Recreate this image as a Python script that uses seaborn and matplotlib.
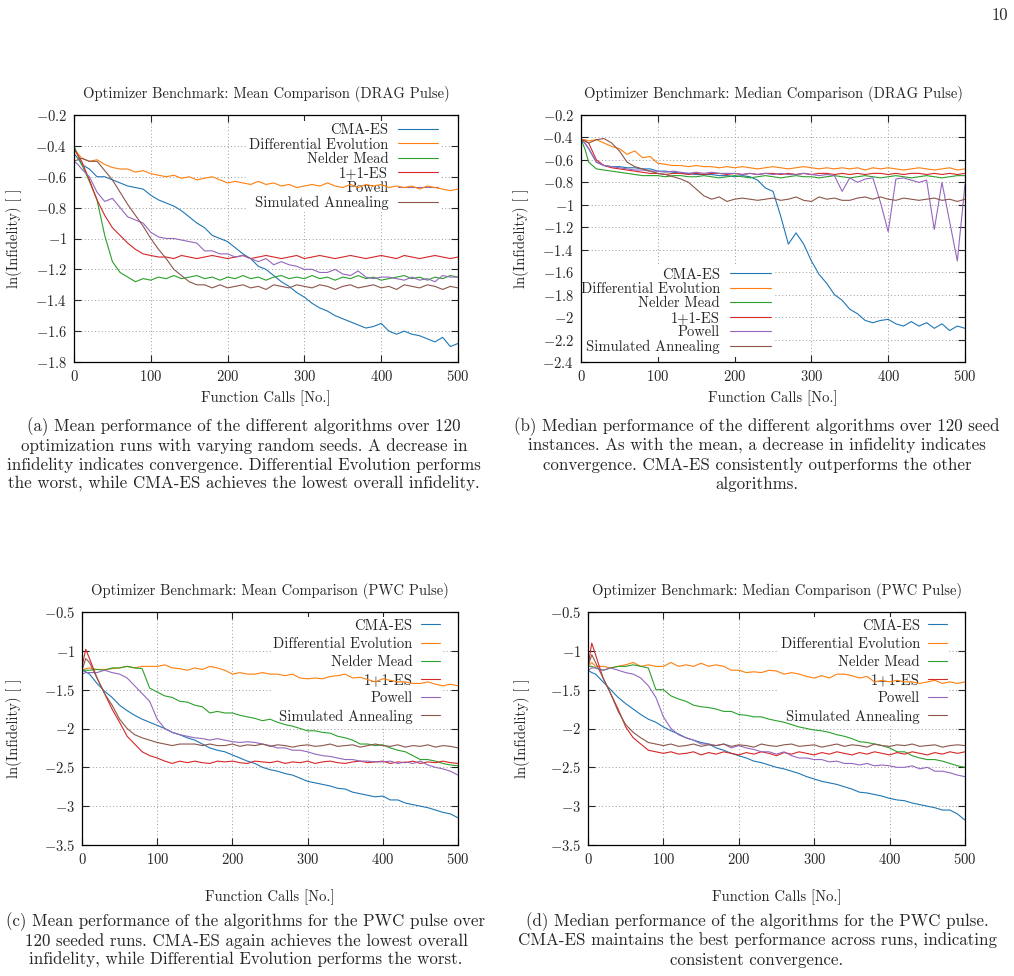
import numpy as np
import seaborn as sns
import matplotlib.pyplot as plt

# function-call grid shared by all curves
calls = [0, 5] + list(range(10, 501, 10))

algorithms = ["CMA-ES", "Differential Evolution", "Nelder Mead", "1+1-ES", "Powell", "Simulated Annealing"]
colors = ["#1f77b4", "#ff7f0e", "#2ca02c", "#d62728", "#9467bd", "#8c564b"]

# (a) mean, DRAG pulse
a_cma = [-0.45, -0.48, -0.52, -0.55, -0.60, -0.60, -0.62, -0.64, -0.66, -0.67, -0.68,
         -0.72, -0.75, -0.77, -0.79, -0.82, -0.86, -0.90, -0.93, -0.98, -1.00,
         -1.02, -1.06, -1.10, -1.13, -1.18, -1.20, -1.24, -1.28, -1.31, -1.35,
         -1.38, -1.42, -1.45, -1.47, -1.50, -1.52, -1.54, -1.56, -1.58, -1.57,
         -1.55, -1.60, -1.62, -1.60, -1.62, -1.63, -1.65, -1.67, -1.64, -1.70,
         -1.68]
a_de = [-0.42, -0.45, -0.48, -0.50, -0.49, -0.52, -0.54, -0.55, -0.55, -0.57, -0.56,
        -0.58, -0.59, -0.60, -0.59, -0.61, -0.60, -0.62, -0.61, -0.60, -0.62,
        -0.64, -0.63, -0.64, -0.65, -0.63, -0.65, -0.64, -0.66, -0.65, -0.67,
        -0.66, -0.65, -0.66, -0.64, -0.66, -0.67, -0.65, -0.67, -0.65, -0.66,
        -0.65, -0.67, -0.66, -0.67, -0.66, -0.68, -0.66, -0.67, -0.68, -0.69,
        -0.68]
a_nm = [-0.40, -0.46, -0.52, -0.63, -0.75, -0.98, -1.15, -1.22, -1.25, -1.28, -1.26,
        -1.27, -1.25, -1.26, -1.24, -1.26, -1.25, -1.24, -1.26, -1.25, -1.27,
        -1.25, -1.26, -1.24, -1.26, -1.25, -1.27, -1.25, -1.24, -1.26, -1.25,
        -1.26, -1.24, -1.26, -1.25, -1.27, -1.25, -1.26, -1.24, -1.26, -1.25,
        -1.27, -1.26, -1.25, -1.24, -1.26, -1.25, -1.27, -1.25, -1.26, -1.24,
        -1.25]
a_es = [-0.42, -0.46, -0.50, -0.62, -0.75, -0.85, -0.93, -0.98, -1.03, -1.07, -1.10,
        -1.11, -1.12, -1.12, -1.13, -1.11, -1.12, -1.13, -1.12, -1.11, -1.12,
        -1.13, -1.12, -1.11, -1.13, -1.12, -1.11, -1.12, -1.13, -1.12, -1.11,
        -1.13, -1.12, -1.11, -1.12, -1.13, -1.12, -1.11, -1.12, -1.13, -1.12,
        -1.11, -1.12, -1.13, -1.11, -1.12, -1.13, -1.12, -1.11, -1.12, -1.13,
        -1.12]
a_pw = [-0.50, -0.52, -0.55, -0.60, -0.70, -0.76, -0.74, -0.80, -0.86, -0.88, -0.90,
        -0.96, -0.99, -1.00, -1.00, -1.01, -1.02, -1.03, -1.08, -1.08, -1.10,
        -1.10, -1.12, -1.11, -1.13, -1.15, -1.13, -1.17, -1.15, -1.17, -1.18,
        -1.20, -1.20, -1.22, -1.22, -1.20, -1.23, -1.24, -1.21, -1.25, -1.26,
        -1.25, -1.25, -1.26, -1.27, -1.25, -1.27, -1.26, -1.28, -1.24, -1.25,
        -1.25]
a_sa = [-0.50, -0.49, -0.48, -0.50, -0.50, -0.56, -0.62, -0.70, -0.78, -0.85, -0.92,
        -1.00, -1.07, -1.13, -1.20, -1.24, -1.28, -1.30, -1.30, -1.32, -1.30,
        -1.32, -1.31, -1.30, -1.32, -1.31, -1.33, -1.30, -1.31, -1.32, -1.30,
        -1.31, -1.32, -1.30, -1.31, -1.33, -1.31, -1.30, -1.32, -1.31, -1.30,
        -1.32, -1.31, -1.33, -1.30, -1.31, -1.32, -1.30, -1.31, -1.33, -1.31,
        -1.32]

# (b) median, DRAG pulse
b_cma = [-0.42, -0.45, -0.50, -0.62, -0.65, -0.66, -0.66, -0.67, -0.67, -0.68, -0.68,
         -0.70, -0.70, -0.71, -0.72, -0.72, -0.73, -0.73, -0.73, -0.74, -0.74,
         -0.75, -0.74, -0.75, -0.78, -0.85, -0.88, -1.10, -1.35, -1.25, -1.35,
         -1.50, -1.62, -1.70, -1.80, -1.85, -1.93, -1.97, -2.03, -2.05, -2.03,
         -2.02, -2.06, -2.08, -2.04, -2.08, -2.05, -2.10, -2.06, -2.12, -2.08,
         -2.10]
b_de = [-0.42, -0.42, -0.43, -0.42, -0.45, -0.48, -0.50, -0.55, -0.52, -0.58, -0.57,
        -0.63, -0.64, -0.65, -0.65, -0.66, -0.65, -0.66, -0.66, -0.67, -0.66,
        -0.67, -0.66, -0.67, -0.68, -0.67, -0.66, -0.67, -0.68, -0.67, -0.66,
        -0.67, -0.68, -0.67, -0.68, -0.67, -0.68, -0.67, -0.69, -0.67, -0.68,
        -0.67, -0.68, -0.69, -0.68, -0.67, -0.68, -0.69, -0.68, -0.67, -0.69,
        -0.68]
b_nm = [-0.42, -0.50, -0.62, -0.68, -0.69, -0.70, -0.71, -0.72, -0.73, -0.74, -0.74,
        -0.74, -0.75, -0.74, -0.74, -0.75, -0.75, -0.74, -0.75, -0.76, -0.75,
        -0.74, -0.75, -0.76, -0.75, -0.74, -0.75, -0.76, -0.75, -0.74, -0.75,
        -0.75, -0.76, -0.75, -0.74, -0.75, -0.76, -0.75, -0.74, -0.75, -0.76,
        -0.75, -0.74, -0.75, -0.76, -0.75, -0.74, -0.75, -0.76, -0.75, -0.74,
        -0.74]
b_es = [-0.42, -0.43, -0.45, -0.60, -0.65, -0.67, -0.68, -0.69, -0.70, -0.71, -0.72,
        -0.72, -0.73, -0.72, -0.72, -0.73, -0.72, -0.73, -0.72, -0.72, -0.73,
        -0.72, -0.73, -0.72, -0.73, -0.72, -0.72, -0.73, -0.72, -0.73, -0.72,
        -0.73, -0.72, -0.72, -0.73, -0.72, -0.73, -0.72, -0.73, -0.72, -0.72,
        -0.73, -0.72, -0.73, -0.72, -0.72, -0.73, -0.72, -0.73, -0.72, -0.73,
        -0.72]
b_pw = [-0.42, -0.45, -0.50, -0.62, -0.65, -0.66, -0.67, -0.68, -0.69, -0.69, -0.70,
        -0.70, -0.71, -0.70, -0.71, -0.72, -0.71, -0.72, -0.71, -0.72, -0.72,
        -0.72, -0.73, -0.72, -0.73, -0.72, -0.73, -0.72, -0.73, -0.73, -0.72,
        -0.73, -0.74, -0.73, -0.74, -0.88, -0.76, -0.80, -0.77, -0.76, -0.98,
        -1.24, -0.77, -0.76, -0.78, -0.80, -0.78, -1.22, -0.80, -1.15, -1.50,
        -0.82]
b_sa = [-0.42, -0.43, -0.45, -0.42, -0.41, -0.45, -0.52, -0.62, -0.66, -0.68, -0.70,
        -0.72, -0.73, -0.75, -0.77, -0.80, -0.86, -0.92, -0.95, -0.93, -0.97,
        -0.95, -0.94, -0.95, -0.96, -0.95, -0.94, -0.96, -0.95, -0.93, -0.96,
        -0.97, -0.93, -0.95, -0.94, -0.96, -0.96, -0.94, -0.93, -0.95, -0.93,
        -0.95, -0.96, -0.94, -0.95, -0.96, -0.95, -0.94, -0.96, -0.95, -0.97,
        -0.95]

# (c) mean, PWC pulse
c_cma = [-1.25, -1.27, -1.30, -1.42, -1.52, -1.60, -1.70, -1.77, -1.83, -1.88, -1.92,
         -1.96, -2.00, -2.05, -2.08, -2.12, -2.15, -2.20, -2.25, -2.28, -2.30,
         -2.34, -2.38, -2.42, -2.45, -2.50, -2.53, -2.55, -2.58, -2.60, -2.64,
         -2.68, -2.70, -2.72, -2.74, -2.77, -2.78, -2.82, -2.84, -2.86, -2.88,
         -2.87, -2.92, -2.92, -2.96, -2.98, -3.00, -3.02, -3.05, -3.08, -3.10,
         -3.15]
c_de = [-1.25, -1.23, -1.22, -1.24, -1.24, -1.23, -1.22, -1.20, -1.22, -1.20, -1.20,
        -1.20, -1.18, -1.22, -1.23, -1.25, -1.22, -1.24, -1.20, -1.22, -1.25,
        -1.30, -1.28, -1.30, -1.30, -1.28, -1.30, -1.30, -1.32, -1.30, -1.35,
        -1.36, -1.35, -1.36, -1.33, -1.32, -1.30, -1.35, -1.34, -1.37, -1.40,
        -1.36, -1.38, -1.40, -1.40, -1.42, -1.42, -1.40, -1.43, -1.45, -1.43,
        -1.45]
c_nm = [-1.25, -1.25, -1.25, -1.24, -1.25, -1.22, -1.22, -1.20, -1.22, -1.23, -1.48,
        -1.53, -1.58, -1.60, -1.65, -1.66, -1.70, -1.72, -1.80, -1.78, -1.80,
        -1.80, -1.83, -1.85, -1.87, -1.90, -1.88, -1.92, -1.95, -1.97, -2.00,
        -2.03, -2.03, -2.05, -2.06, -2.10, -2.12, -2.15, -2.20, -2.20, -2.22,
        -2.21, -2.25, -2.28, -2.30, -2.35, -2.40, -2.40, -2.42, -2.45, -2.47,
        -2.48]
c_es = [-1.20, -0.98, -1.10, -1.35, -1.55, -1.75, -1.92, -2.10, -2.20, -2.30, -2.35,
        -2.38, -2.42, -2.45, -2.42, -2.44, -2.42, -2.44, -2.45, -2.42, -2.43,
        -2.42, -2.44, -2.45, -2.42, -2.43, -2.44, -2.42, -2.45, -2.43, -2.44,
        -2.42, -2.45, -2.43, -2.42, -2.44, -2.45, -2.43, -2.42, -2.44, -2.43,
        -2.42, -2.45, -2.43, -2.44, -2.42, -2.45, -2.43, -2.44, -2.42, -2.44,
        -2.45]
c_pw = [-1.30, -1.28, -1.28, -1.28, -1.25, -1.28, -1.30, -1.35, -1.45, -1.55, -1.65,
        -1.88, -2.00, -2.05, -2.08, -2.10, -2.12, -2.13, -2.15, -2.13, -2.15,
        -2.17, -2.18, -2.17, -2.18, -2.20, -2.22, -2.25, -2.25, -2.28, -2.28,
        -2.30, -2.33, -2.35, -2.36, -2.38, -2.40, -2.40, -2.42, -2.42, -2.43,
        -2.43, -2.42, -2.45, -2.43, -2.45, -2.42, -2.47, -2.50, -2.52, -2.55,
        -2.60]
c_sa = [-1.25, -1.10, -1.15, -1.35, -1.55, -1.70, -1.88, -2.00, -2.08, -2.12, -2.15,
        -2.18, -2.20, -2.22, -2.20, -2.20, -2.20, -2.22, -2.20, -2.22, -2.22,
        -2.20, -2.23, -2.21, -2.22, -2.20, -2.23, -2.21, -2.22, -2.24, -2.22,
        -2.21, -2.23, -2.22, -2.20, -2.23, -2.22, -2.21, -2.24, -2.22, -2.20,
        -2.22, -2.23, -2.21, -2.24, -2.22, -2.23, -2.21, -2.24, -2.22, -2.23,
        -2.25]

# (d) median, PWC pulse
d_cma = [-1.25, -1.28, -1.30, -1.40, -1.50, -1.60, -1.68, -1.75, -1.82, -1.88, -1.92,
         -1.98, -2.03, -2.07, -2.12, -2.15, -2.18, -2.20, -2.25, -2.28, -2.32,
         -2.35, -2.38, -2.42, -2.44, -2.47, -2.50, -2.52, -2.55, -2.58, -2.62,
         -2.65, -2.68, -2.70, -2.72, -2.75, -2.78, -2.82, -2.83, -2.85, -2.87,
         -2.90, -2.92, -2.93, -2.96, -2.98, -3.00, -3.02, -3.05, -3.05, -3.10,
         -3.18]
d_de = [-1.20, -1.15, -1.20, -1.20, -1.22, -1.20, -1.18, -1.15, -1.20, -1.18, -1.20,
        -1.20, -1.15, -1.20, -1.18, -1.20, -1.16, -1.20, -1.18, -1.20, -1.25,
        -1.25, -1.28, -1.27, -1.28, -1.25, -1.26, -1.30, -1.28, -1.30, -1.33,
        -1.35, -1.32, -1.35, -1.30, -1.30, -1.32, -1.35, -1.33, -1.40, -1.38,
        -1.40, -1.38, -1.40, -1.40, -1.42, -1.40, -1.38, -1.42, -1.40, -1.42,
        -1.40]
d_nm = [-1.20, -1.20, -1.22, -1.25, -1.22, -1.20, -1.20, -1.18, -1.20, -1.22, -1.50,
        -1.50, -1.58, -1.62, -1.65, -1.70, -1.72, -1.73, -1.75, -1.78, -1.78,
        -1.82, -1.83, -1.85, -1.85, -1.88, -1.90, -1.92, -1.95, -1.98, -2.00,
        -2.02, -2.03, -2.05, -2.08, -2.10, -2.13, -2.17, -2.18, -2.20, -2.22,
        -2.25, -2.30, -2.30, -2.35, -2.38, -2.40, -2.40, -2.42, -2.45, -2.48,
        -2.50]
d_es = [-1.20, -0.90, -1.05, -1.35, -1.55, -1.75, -1.98, -2.12, -2.20, -2.28, -2.30,
        -2.32, -2.30, -2.33, -2.32, -2.30, -2.34, -2.31, -2.33, -2.30, -2.32,
        -2.34, -2.31, -2.33, -2.30, -2.32, -2.35, -2.31, -2.33, -2.30, -2.32,
        -2.34, -2.31, -2.33, -2.30, -2.32, -2.34, -2.31, -2.33, -2.30, -2.32,
        -2.34, -2.31, -2.33, -2.30, -2.32, -2.34, -2.31, -2.33, -2.30, -2.32,
        -2.30]
d_pw = [-1.25, -1.22, -1.22, -1.25, -1.22, -1.25, -1.28, -1.30, -1.35, -1.45, -1.60,
        -1.85, -2.00, -2.08, -2.12, -2.15, -2.20, -2.20, -2.22, -2.20, -2.25,
        -2.22, -2.25, -2.27, -2.30, -2.30, -2.33, -2.30, -2.35, -2.38, -2.38,
        -2.40, -2.40, -2.43, -2.42, -2.45, -2.45, -2.47, -2.45, -2.48, -2.47,
        -2.48, -2.50, -2.50, -2.48, -2.52, -2.50, -2.55, -2.55, -2.57, -2.60,
        -2.62]
d_sa = [-1.20, -1.05, -1.15, -1.35, -1.55, -1.78, -1.95, -2.05, -2.12, -2.18, -2.20,
        -2.22, -2.20, -2.23, -2.22, -2.20, -2.23, -2.21, -2.22, -2.20, -2.23,
        -2.21, -2.22, -2.24, -2.20, -2.22, -2.23, -2.21, -2.20, -2.23, -2.22,
        -2.21, -2.24, -2.22, -2.20, -2.23, -2.21, -2.22, -2.24, -2.20, -2.22,
        -2.23, -2.21, -2.22, -2.20, -2.23, -2.22, -2.21, -2.24, -2.22, -2.21,
        -2.22]

titles = ["Optimizer Benchmark: Mean Comparison (DRAG Pulse)",
          "Optimizer Benchmark: Median Comparison (DRAG Pulse)",
          "Optimizer Benchmark: Mean Comparison (PWC Pulse)",
          "Optimizer Benchmark: Median Comparison (PWC Pulse)"]

captions = [
    ["(a) Mean performance of the different algorithms over 120",
     "optimization runs with varying random seeds. A decrease in",
     "infidelity indicates convergence. Differential Evolution performs",
     "the worst, while CMA-ES achieves the lowest overall infidelity."],
    ["(b) Median performance of the different algorithms over 120 seed",
     "instances. As with the mean, a decrease in infidelity indicates",
     "convergence. CMA-ES consistently outperforms the other",
     "algorithms."],
    ["(c) Mean performance of the algorithms for the PWC pulse over",
     "120 seeded runs. CMA-ES again achieves the lowest overall",
     "infidelity, while Differential Evolution performs the worst."],
    ["(d) Median performance of the algorithms for the PWC pulse.",
     "CMA-ES maintains the best performance across runs, indicating",
     "consistent convergence."],
]

sns.set_style("ticks")
plt.rcParams["font.family"] = ["cmr10", "DejaVu Serif"]
plt.rcParams["mathtext.fontset"] = "cm"
plt.rcParams["axes.formatter.use_mathtext"] = True

W, H = 1014, 976
fig = plt.figure(figsize=(W / 100, H / 100), dpi=100)


def box(l, r, t, b):
    return [l / W, 1 - b / H, (r - l) / W, (b - t) / H]


panels = [
    dict(rect=box(74, 458, 115, 362), data=[a_cma, a_de, a_nm, a_es, a_pw, a_sa],
         ylim=(-1.8, -0.2), yticks=np.arange(-1.8, -0.19, 0.2),
         anchor=(0.953, 0.975), spacing=0.05, hl=2.7, hp=0.7,
         xlab=-0.115, ylab=-0.135),
    dict(rect=box(581, 965, 115, 362), data=[b_cma, b_de, b_nm, b_es, b_pw, b_sa],
         ylim=(-2.4, -0.2), yticks=np.arange(-2.4, -0.19, 0.2),
         anchor=(0.50, 0.39), spacing=0.05, hl=2.8, hp=0.7,
         xlab=-0.115, ylab=-0.135),
    dict(rect=box(82, 458, 612, 845), data=[c_cma, c_de, c_nm, c_es, c_pw, c_sa],
         ylim=(-3.5, -0.5), yticks=np.arange(-3.5, -0.49, 0.5),
         anchor=(0.957, 0.98), spacing=0.3, hl=1.3, hp=0.55,
         xlab=-0.19, ylab=-0.16),
    dict(rect=box(588, 965, 612, 845), data=[d_cma, d_de, d_nm, d_es, d_pw, d_sa],
         ylim=(-3.5, -0.5), yticks=np.arange(-3.5, -0.49, 0.5),
         anchor=(0.958, 0.98), spacing=0.3, hl=1.3, hp=0.55,
         xlab=-0.19, ylab=-0.155),
]

for p, title in zip(panels, titles):
    ax = fig.add_axes(p["rect"])
    for name, vals, col in zip(algorithms, p["data"], colors):
        sns.lineplot(x=calls, y=vals, color=col, linewidth=0.8, label=name, ax=ax)
    ax.set_xlim(0, 500)
    ax.set_ylim(*p["ylim"])
    ax.set_xticks(range(0, 501, 100))
    ax.set_xticklabels([f"${v}$" for v in range(0, 501, 100)])
    ax.set_yticks(p["yticks"])
    ax.set_yticklabels([f"${v:g}$" for v in np.round(p["yticks"], 2)])
    ax.tick_params(direction="in", top=True, right=True, length=5, width=0.8,
                   labelsize=10.5, pad=5)
    ax.set_axisbelow(True)
    ax.grid(True, linestyle=(0, (1, 2.5)), color="#9a9a9a", linewidth=0.7)
    for s in ax.spines.values():
        s.set_linewidth(0.9)
        s.set_color("black")
    ax.set_title(title, fontsize=10.5, pad=12)
    ax.set_xlabel("Function Calls [No.]", fontsize=10.5)
    ax.set_ylabel("ln(Infidelity) [ ]", fontsize=10.5)
    ax.xaxis.set_label_coords(0.5, p["xlab"])
    ax.yaxis.set_label_coords(p["ylab"], 0.5)
    # gnuplot-style key: label first, sample line after it, right-justified
    leg = ax.legend(loc="upper right", bbox_to_anchor=p["anchor"], markerfirst=False,
                    frameon=True, fancybox=False, edgecolor="none", facecolor="white",
                    framealpha=1, borderpad=0.15, borderaxespad=0,
                    handlelength=p["hl"], handletextpad=p["hp"],
                    labelspacing=p["spacing"], fontsize=10.5)
    leg.set_zorder(1.5)

cap_x = [244, 757, 246, 757]
cap_y = [427, 427, 922, 922]
for lines, cx, cy in zip(captions, cap_x, cap_y):
    for i, line in enumerate(lines):
        fig.text(cx / W, 1 - (cy + 19 * i) / H, line, ha="center", va="center", fontsize=12.2)

fig.text(1000 / W, 1 - 15 / H, "10", ha="center", va="center", fontsize=12)

fig.savefig("out.png", dpi=100)
